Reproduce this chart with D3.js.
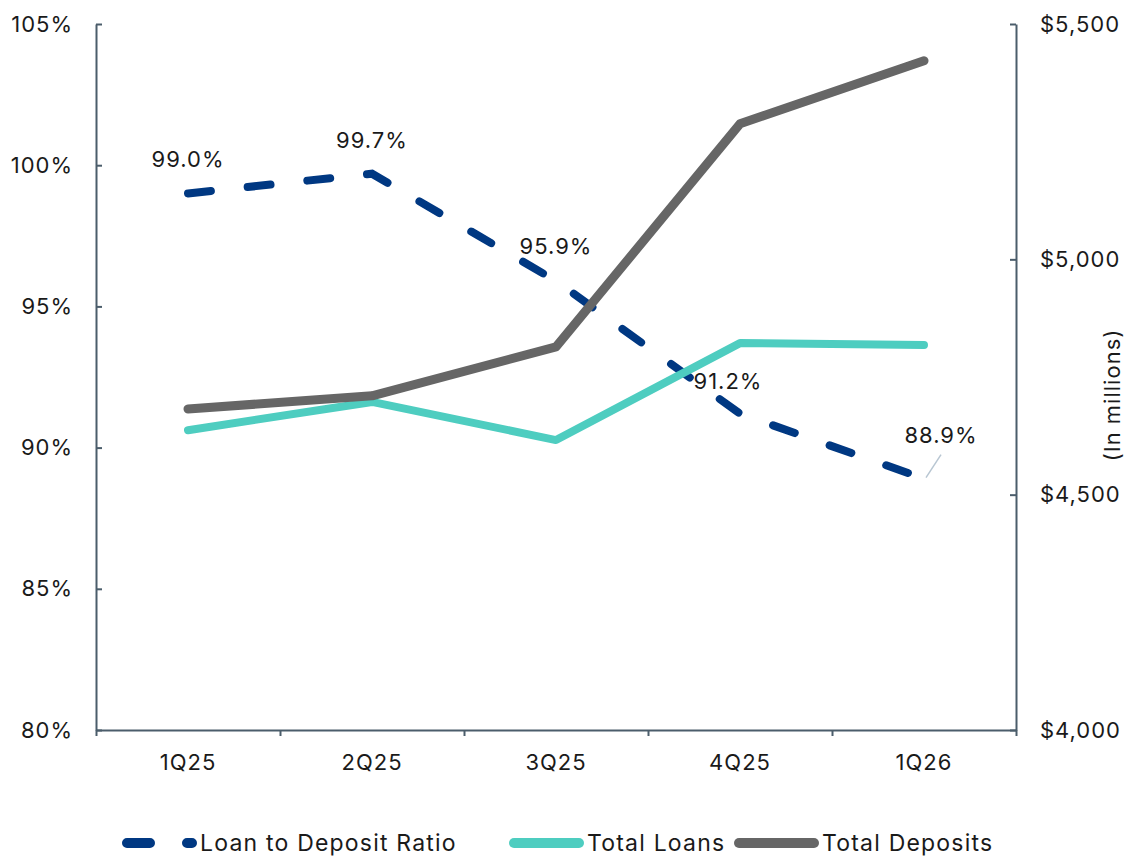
<!DOCTYPE html>
<html>
<head>
<meta charset="utf-8">
<script src="https://cdn.jsdelivr.net/npm/d3@7"></script>
<style>
  body { margin: 0; background: #fff; }
  svg text { font-family: "Inter", "Noto Sans", sans-serif; fill: #1a1a1a; letter-spacing: 1px; }
  .axis path, .axis line { stroke: #4b5d6b; stroke-width: 2; }
</style>
</head>
<body>
<div id="chart"></div>
<script>
var quarters = ["1Q25", "2Q25", "3Q25", "4Q25", "1Q26"];
var loanToDeposit = [99.0, 99.7, 95.9, 91.2, 88.9];
var totalLoans = [4637, 4697, 4616, 4822, 4818];
var totalDeposits = [4682, 4710, 4814, 5288, 5422];
var pctTicks = [80, 85, 90, 95, 100, 105];
var dollarTicks = [4000, 4500, 5000, 5500];

var width = 1129, height = 856;
var margin = { top: 24, right: 113, bottom: 126, left: 96 };
var innerW = width - margin.left - margin.right,
    innerH = height - margin.top - margin.bottom;
var fs = "22px";

var svg = d3.select("#chart").append("svg")
    .attr("width", width)
    .attr("height", height);

var g = svg.append("g")
    .attr("transform", "translate(" + margin.left + "," + margin.top + ")");

var x = d3.scaleBand().domain(quarters).range([0, innerW]).padding(0);
var xEdge = d3.scaleLinear().domain([0, quarters.length]).range([0, innerW]);
var yL = d3.scaleLinear().domain([80, 105]).range([innerH, 0]);
var yR = d3.scaleLinear().domain([4000, 5500]).range([innerH, 0]);

function cx(i) { return x(quarters[i]) + x.bandwidth() / 2; }

// axes
g.append("g")
    .attr("class", "axis")
    .call(d3.axisLeft(yL).tickValues(pctTicks).tickSizeInner(-6).tickSizeOuter(0).tickPadding(23)
        .tickFormat(function (d) { return d + "%"; }))
    .selectAll("text").style("font-size", fs);

g.append("g")
    .attr("class", "axis")
    .attr("transform", "translate(" + innerW + ",0)")
    .call(d3.axisRight(yR).tickValues(dollarTicks).tickSizeInner(-6).tickSizeOuter(0).tickPadding(24)
        .tickFormat(function (d) { return "$" + d3.format(",")(d); }))
    .selectAll("text").style("font-size", fs);

g.append("g")
    .attr("class", "axis")
    .attr("transform", "translate(0," + innerH + ")")
    .call(d3.axisBottom(xEdge).ticks(quarters.length).tickSizeInner(6).tickSizeOuter(0).tickFormat(""));

var xa = g.append("g")
    .attr("class", "axis")
    .attr("transform", "translate(0," + innerH + ")")
    .call(d3.axisBottom(x).tickSize(0).tickPadding(24));
xa.select(".domain").remove();
xa.selectAll("text").style("font-size", fs);

svg.append("text")
    .attr("transform", "translate(1120," + (margin.top + innerH / 2 + 18) + ") rotate(-90)")
    .attr("text-anchor", "middle")
    .style("font-size", fs)
    .text("(In millions)");

// lines
var ltdLine = d3.line().x(function (d, i) { return cx(i); }).y(function (d) { return yL(d); });
var dollarLine = d3.line().x(function (d, i) { return cx(i); }).y(function (d) { return yR(d); });

g.append("path")
    .attr("d", ltdLine(loanToDeposit))
    .attr("fill", "none")
    .attr("stroke", "#003882")
    .attr("stroke-width", 8)
    .attr("stroke-linecap", "round")
    .attr("stroke-dasharray", "23,37");

g.append("path")
    .attr("d", dollarLine(totalLoans))
    .attr("fill", "none")
    .attr("stroke", "#4ecdc0")
    .attr("stroke-width", 8)
    .attr("stroke-linejoin", "round")
    .attr("stroke-linecap", "round");

g.append("path")
    .attr("d", dollarLine(totalDeposits))
    .attr("fill", "none")
    .attr("stroke", "#666666")
    .attr("stroke-width", 9)
    .attr("stroke-linejoin", "round")
    .attr("stroke-linecap", "round");

// data labels
var nudge = [[0, -26], [0, -26], [0, -27], [-12, -25], [17, -36]];
g.selectAll(".dlabel")
    .data(loanToDeposit)
    .enter().append("text")
    .attr("class", "dlabel")
    .attr("x", function (d, i) { return cx(i) + nudge[i][0]; })
    .attr("y", function (d, i) { return yL(d) + nudge[i][1]; })
    .attr("text-anchor", "middle")
    .style("font-size", fs)
    .text(function (d) { return d.toFixed(1) + "%"; });

var last = loanToDeposit.length - 1;
g.append("line")
    .attr("x1", cx(last) + 2).attr("y1", yL(loanToDeposit[last]) - 1)
    .attr("x2", cx(last) + 17).attr("y2", yL(loanToDeposit[last]) - 24)
    .attr("stroke", "#b8c6d2")
    .attr("stroke-width", 1.5);

// legend
var legendItems = [
    { name: "Loan to Deposit Ratio", color: "#003882", dash: "23,37", x: 127, w: 65 },
    { name: "Total Loans", color: "#4ecdc0", dash: null, x: 514, w: 65 },
    { name: "Total Deposits", color: "#666666", dash: null, x: 739, w: 75 }
];
var lg = svg.append("g").attr("transform", "translate(0,843)");
var item = lg.selectAll(".lg").data(legendItems).enter().append("g")
    .attr("transform", function (d) { return "translate(" + d.x + ",0)"; });
item.append("line")
    .attr("x1", 0).attr("x2", function (d) { return d.w; })
    .attr("stroke", function (d) { return d.color; })
    .attr("stroke-width", 10)
    .attr("stroke-linecap", "round")
    .attr("stroke-dasharray", function (d) { return d.dash; });
item.append("text")
    .attr("x", function (d) { return d.w + 8; })
    .attr("dy", "0.35em")
    .style("font-size", "23px")
    .style("letter-spacing", "1.2px")
    .text(function (d) { return d.name; });
</script>
</body>
</html>
